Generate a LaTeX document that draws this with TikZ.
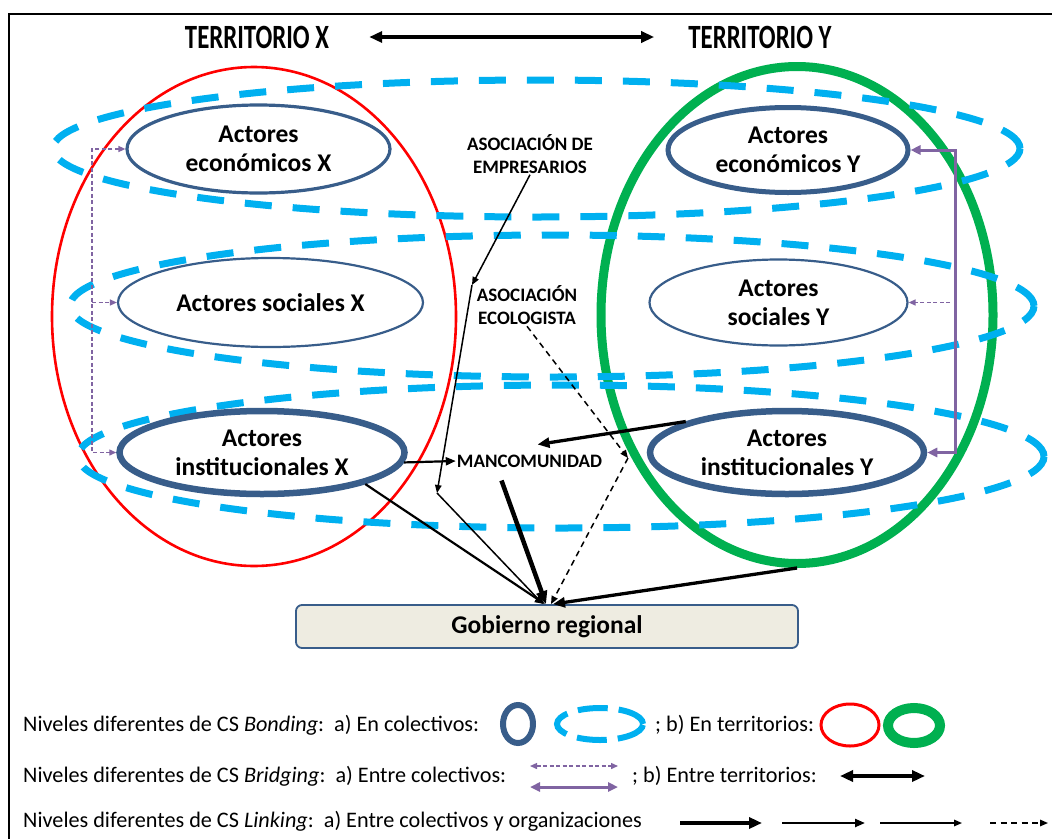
\documentclass[tikz,border=0pt]{standalone}
\usepackage{fontspec}
\setmainfont{Carlito}
\usetikzlibrary{shapes.geometric,arrows.meta}

\definecolor{nodeblue}{HTML}{385D8A}
\definecolor{bondcyan}{HTML}{00B0F0}
\definecolor{terrred}{HTML}{FF0000}
\definecolor{terrgreen}{HTML}{00B050}
\definecolor{bridgepurple}{HTML}{8064A2}
\definecolor{boxfill}{HTML}{EEECE1}

\newcommand\actorfnt{\bfseries\fontsize{25.5}{29}\selectfont}
\newcommand\orgfnt{\bfseries\fontsize{19}{23}\selectfont}
\newcommand\legfnt{\fontsize{22.2}{26}\selectfont}
\newcommand\titlefnt{\bfseries\fontsize{34}{40}\selectfont}

\begin{document}
\begin{tikzpicture}[x=1pt,y=-1pt,
  actor/.style={ellipse, draw=nodeblue, align=center, font=\actorfnt, inner sep=0pt},
  bond/.style={ellipse, draw=bondcyan, line width=7pt, dash pattern=on 27pt off 21pt, inner sep=0pt},
  terr/.style={ellipse, inner sep=0pt},
  org/.style={font=\orgfnt, align=center, inner sep=1pt},
  legtext/.style={font=\legfnt, anchor=base west, inner sep=0pt},
  thinlink/.style={line width=1.5pt, -{Triangle[length=8pt,width=6.5pt]}},
  dashlink/.style={line width=1.5pt, dash pattern=on 6pt off 4.5pt, -{Triangle[length=8pt,width=6.5pt]}},
  medlink/.style={line width=2.2pt, -{Triangle[length=10pt,width=8pt]}},
  heavylink/.style={line width=3.3pt, -{Triangle[length=12pt,width=10pt]}},
  heavierlink/.style={line width=4.5pt, -{Triangle[length=13pt,width=11pt]}},
  pdash/.style={draw=bridgepurple, line width=1.4pt, dash pattern=on 4pt off 2.5pt},
  psolid/.style={draw=bridgepurple, line width=3pt},
  ptipsmall/.style={-{Triangle[length=7pt,width=6pt]}},
  ptipsmallboth/.style={{Triangle[length=7pt,width=6pt]}-{Triangle[length=7pt,width=6pt]}},
  ptipboth/.style={{Triangle[length=10pt,width=9pt]}-{Triangle[length=10pt,width=9pt]}},
  terrlink/.style={line width=3.6pt, {Triangle[length=13pt,width=11pt]}-{Triangle[length=13pt,width=11pt]}}
]
\useasboundingbox (0,0) rectangle (1052,838);
\clip (0,0) rectangle (1052,838);

% outer frame
\draw[line width=2pt] (8.5,14) rectangle (1100,900);

% titles
\node[font=\titlefnt, inner sep=0pt] (tX) at (257,37) {\scalebox{0.73}[1]{TERRITORIO X}};
\node[font=\titlefnt, inner sep=0pt] (tY) at (760,37) {\scalebox{0.73}[1]{TERRITORIO Y}};
\draw[terrlink] ([xshift=40pt]tX.east) -- ([xshift=-34pt]tY.west);

% territories
\node[terr, draw=terrred, line width=2.6pt, minimum width=404pt, minimum height=499pt] (terrX) at (254,316.5) {};
\node[terr, draw=terrgreen, line width=9pt, minimum width=392pt, minimum height=497pt] (terrY) at (797,315) {};

% bonding within groups
\node[bond, minimum width=967pt, minimum height=137pt] (bondEcon) at (536.5,148.5) {};
\node[bond, minimum width=964pt, minimum height=142pt] (bondSoc) at (552,306) {};
\node[bond, minimum width=966pt, minimum height=143pt] (bondInst) at (561,456.5) {};

% actors
\node[actor, line width=3.2pt, minimum width=263pt, minimum height=88pt] (econX) at (258.5,149) {Actores\\económicos X};
\node[actor, line width=2.2pt, minimum width=305pt, minimum height=89pt] (socX) at (270.5,302.5) {Actores sociales X};
\node[actor, line width=6.5pt, minimum width=285pt, minimum height=83pt] (instX) at (262,452.5) {Actores\\institucionales X};
\node[actor, line width=5pt, minimum width=240pt, minimum height=85pt] (econY) at (788,150) {Actores\\económicos Y};
\node[actor, line width=2.2pt, minimum width=258pt, minimum height=86pt] (socY) at (778.5,302.5) {Actores\\sociales Y};
\node[actor, line width=6.5pt, minimum width=274pt, minimum height=83pt] (instY) at (787,452.5) {Actores\\institucionales Y};

% organisations
\node[org] (emp) at (530,154) {ASOCIACIÓN DE\\EMPRESARIOS};
\node[org] (eco) at (527,305.5) {ASOCIACIÓN\\ECOLOGISTA};
\node[org] (manc) at (529.5,461) {MANCOMUNIDAD};

% regional government
\node[draw=nodeblue, line width=1.8pt, fill=boxfill, rounded corners=6pt,
      minimum width=502pt, minimum height=43pt, font=\actorfnt, inner sep=0pt] (gob) at (547,626.5) {Gobierno regional};

% bridging between groups
\coordinate (bxTop) at (92,149);
\coordinate (bxSoc) at (92,302.5);
\coordinate (bxInst) at (92,452.5);
\draw[pdash, ptipsmallboth] (econX.west) -- (bxTop) -- (bxInst) -- (instX.west);
\draw[pdash, ptipsmall] (bxSoc) -- (socX.west);

\coordinate (byTop) at (955,150);
\coordinate (bySoc) at (950,302.5);
\coordinate (byInst) at (955,452.5);
\draw[psolid, ptipboth] (econY.east) -- (byTop) -- (byInst) -- (instY.east);
\draw[pdash, ptipsmall] (bySoc) -- (socY.east);

% linking
\coordinate (empA) at (472,285);
\coordinate (empB) at (437,493);
\coordinate (ecoA) at (628,458);
\draw[thinlink] (emp.south) -- (empA);
\draw[thinlink] (empA) -- (empB);
\draw[thinlink] (empB) -- ([xshift=-4pt]gob.north);
\draw[dashlink] (eco.south) -- (ecoA);
\draw[dashlink] (ecoA) -- ([xshift=4pt]gob.north);
\draw[medlink] (instX.-4) -- (manc.west);
\draw[heavylink] (instY.163) -- ([xshift=8pt,yshift=9pt]manc.north);
\draw[heavierlink] ([xshift=-28pt,yshift=-12pt]manc.south) -- ([xshift=-1pt]gob.north);
\draw[medlink] (instX.-17) -- ([xshift=-2pt]gob.north);
\draw[heavylink] (terrY.south) -- ([xshift=6pt]gob.north);

% legend
\node[legtext] (lg1) at (23,731) {Niveles diferentes de CS \textit{Bonding}:\ \ a) En colectivos:};
\node[ellipse, draw=nodeblue, line width=6pt, minimum width=30pt, minimum height=38pt, inner sep=0pt] (lgBlue) at (518,724) {};
\node[ellipse, draw=bondcyan, line width=6pt, minimum width=86pt, minimum height=32pt, inner sep=0pt, dash pattern=on 30pt off 11pt] (lgCyan) at (600,724) {};
\node[legtext] (lg1b) at (655,731) {; b) En territorios:};
\node[ellipse, draw=terrred, line width=3pt, minimum width=58pt, minimum height=42pt, inner sep=0pt] (lgRed) at (850,725) {};
\node[ellipse, draw=terrgreen, line width=10pt, minimum width=52pt, minimum height=35pt, inner sep=0pt] (lgGreen) at (914,725.5) {};

\node[legtext] (lg2) at (23,782) {Niveles diferentes de CS \textit{Bridging}:\ \ a) Entre colectivos:};
\coordinate (lpa) at (530,766); \coordinate (lpb) at (618,766);
\coordinate (lpc) at (530,787); \coordinate (lpd) at (618,787);
\draw[pdash, ptipsmallboth] (lpa) -- (lpb);
\draw[psolid, ptipboth] (lpc) -- (lpd);
\node[legtext] (lg2b) at (632,782) {; b) Entre territorios:};
\coordinate (lta) at (840,776); \coordinate (ltb) at (925,776);
\draw[terrlink] (lta) -- (ltb);

\node[legtext] (lg3) at (23,827) {Niveles diferentes de CS \textit{Linking}:\ \ a) Entre colectivos y organizaciones};
\coordinate (l3a) at (680,823); \coordinate (l3b) at (762,823);
\coordinate (l3c) at (782,823); \coordinate (l3d) at (865,823);
\coordinate (l3e) at (880,823); \coordinate (l3f) at (962,823);
\coordinate (l3g) at (990,823); \coordinate (l3h) at (1048,823);
\draw[heavierlink] (l3a) -- (l3b);
\draw[medlink] (l3c) -- (l3d);
\draw[thinlink] (l3e) -- (l3f);
\draw[dashlink] (l3g) -- (l3h);
\end{tikzpicture}
\end{document}
